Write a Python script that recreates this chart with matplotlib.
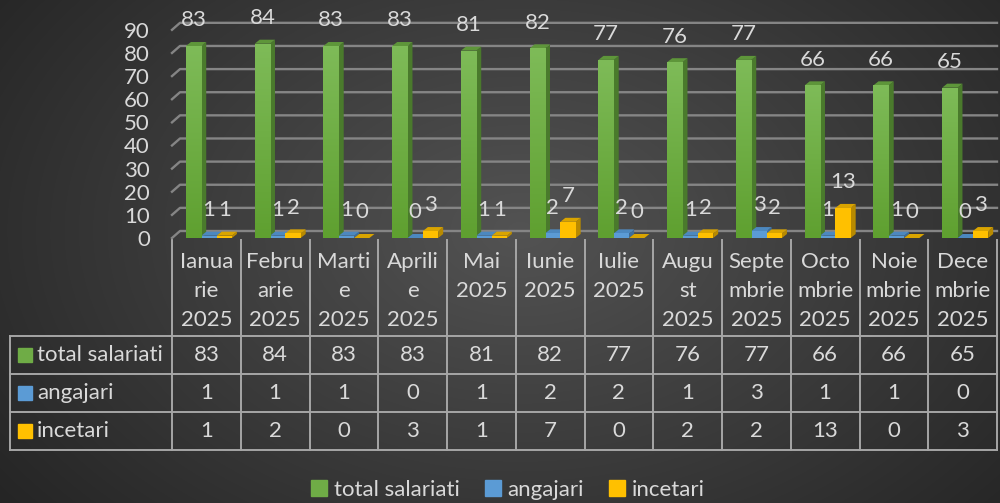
import matplotlib.pyplot as plt
import numpy as np
from matplotlib.patches import Polygon, Rectangle, Patch
from matplotlib.colors import LinearSegmentedColormap

plt.rcParams['font.family'] = ['Lato', 'DejaVu Sans']

months = ["Ianua\nrie\n2025", "Febru\narie\n2025", "Marti\ne\n2025", "Aprili\ne\n2025",
          "Mai\n2025", "Iunie\n2025", "Iulie\n2025", "Augu\nst\n2025",
          "Septe\nmbrie\n2025", "Octo\nmbrie\n2025", "Noie\nmbrie\n2025", "Dece\nmbrie\n2025"]
total_salariati = [83, 84, 83, 83, 81, 82, 77, 76, 77, 66, 66, 65]
angajari = [1, 1, 1, 0, 1, 2, 2, 1, 3, 1, 1, 0]
incetari = [1, 2, 0, 3, 1, 7, 0, 2, 2, 13, 0, 3]
series_names = ["total salariati", "angajari", "incetari"]

front_cols = ['#6FAC46', '#5B9BD5', '#FFC000']
side_cols = ['#4A7A2C', '#3E6E9A', '#B88A00']
top_cols = ['#5E963A', '#4C88BF', '#D9A400']
txt = '#D9D9D9'
fs = 16

W, H = 1000, 503
fig = plt.figure(figsize=(10, 5.03), dpi=100)

# fond gri cu gradient radial + tabelul, in coordonate pixel
bg = fig.add_axes([0, 0, 1, 1])
yy, xx = np.mgrid[0:H, 0:W]
r = np.sqrt(((xx - 520) / 620.0) ** 2 + ((yy - 230) / 420.0) ** 2)
g = np.clip(0.325 - 0.17 * r, 0.14, 1)
bg.imshow(np.dstack([g, g, g]), extent=[0, W, H, 0], aspect='auto')
bg.set_xlim(0, W)
bg.set_ylim(H, 0)
bg.axis('off')

x0, cw = 172, 68.75
n = len(months)
rows_y = [336, 374, 412, 450]
lc = '#A6A6A6'
for yv in rows_y:
    bg.plot([10, x0 + cw * n], [yv, yv], color=lc, lw=1.4)
bg.plot([10, 10], [rows_y[0], rows_y[-1]], color=lc, lw=1.4)
for i in range(n + 1):
    bg.plot([x0 + cw * i, x0 + cw * i], [240, rows_y[-1]], color=lc, lw=1.4)

for i, m in enumerate(months):
    bg.text(x0 + cw * (i + 0.5), 252, m, ha='center', va='top', color=txt,
            fontsize=fs, linespacing=1.55)

table_rows = [total_salariati, angajari, incetari]
for k, (name, vals) in enumerate(zip(series_names, table_rows)):
    yc = (rows_y[k] + rows_y[k + 1]) / 2
    bg.add_patch(Rectangle((18, yc - 7), 14, 14, color=front_cols[k]))
    bg.text(37, yc, name, ha='left', va='center', color=txt, fontsize=fs)
    for i, v in enumerate(vals):
        bg.text(x0 + cw * (i + 0.5), yc, str(v), ha='center', va='center',
                color=txt, fontsize=fs)

# graficul
ppu = 2.313
ax = fig.add_axes([x0 / W, (H - 238) / H, cw * n / W, 238 / H])
ax.set_facecolor('none')
for s in ax.spines.values():
    s.set_visible(False)
ax.set_xticks([])
ax.set_yticks(range(0, 100, 10))
ax.tick_params(axis='y', length=0, pad=16, labelsize=fs, labelcolor=txt)

gdx, gdy = 8 / cw, 7 / ppu
for v in range(0, 100, 10):
    ax.plot([-0.5, -0.5 + gdx, n - 0.5], [v, v + gdy, v + gdy], color='#858585',
            lw=1.7, clip_on=False, zorder=1)

bw = 15.3 / cw
offs = [-12.8 / cw, 2.6 / cw, 17.9 / cw]
ddx, ddy = 5 / cw, 4 / ppu
series = [total_salariati, angajari, incetari]
gcmap = LinearSegmentedColormap.from_list('g', ['#7EBB58', '#5FA030'])
grad = np.linspace(0, 1, 64).reshape(-1, 1)
for i in range(n):
    for k in range(3):
        v = series[k][i]
        xl = i + offs[k] - bw / 2
        xr = xl + bw
        ax.add_patch(Polygon([(xr, 0), (xr + ddx, ddy), (xr + ddx, v + ddy), (xr, v)],
                             closed=True, color=side_cols[k], lw=0, zorder=3))
        ax.add_patch(Polygon([(xl, v), (xr, v), (xr + ddx, v + ddy), (xl + ddx, v + ddy)],
                             closed=True, color=top_cols[k], lw=0, zorder=3))
        bars = ax.bar(i + offs[k], v, width=bw, color=front_cols[k], lw=0, zorder=3)
        if k == 0:
            im = ax.imshow(grad, extent=[xl, xr, 0, v], cmap=gcmap,
                           aspect='auto', zorder=3.5, origin='upper')
            im.set_clip_path(bars[0])
        ax.annotate(str(v), (i + offs[k], v), xytext=(0, 18.5), textcoords='offset points',
                    ha='center', va='center', color=txt, fontsize=fs, zorder=5,
                    annotation_clip=False)
ax.set_xlim(-0.5, n - 0.5)
ax.set_ylim(0, 238 / ppu)

handles = [Patch(color=c) for c in front_cols]
fig.legend(handles, series_names, loc='center', bbox_to_anchor=(0.508, 1 - 490 / H),
           ncol=3, frameon=False, fontsize=fs, labelcolor=txt, handlelength=0.7,
           handleheight=0.7, handletextpad=0.3, columnspacing=1.15)

fig.savefig('out.png', dpi=100)
